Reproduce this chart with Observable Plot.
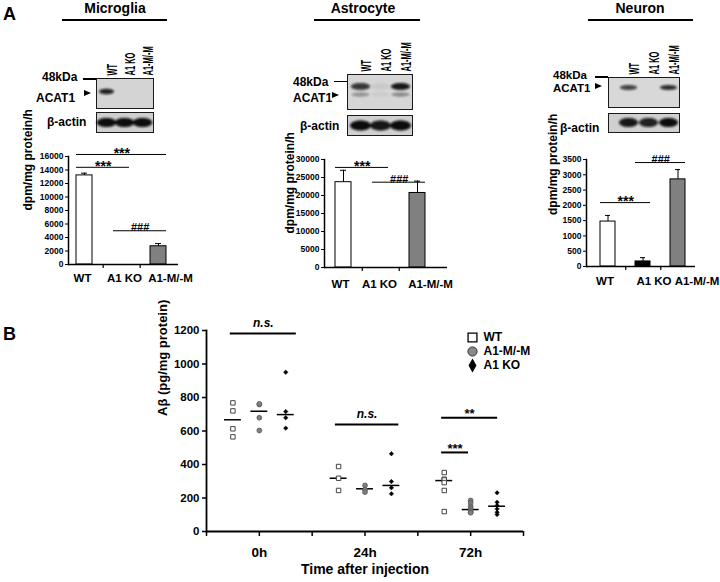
<!DOCTYPE html>
<html><head><meta charset="utf-8">
<script src="https://cdn.jsdelivr.net/npm/d3@7"></script>
<script src="https://cdn.jsdelivr.net/npm/@observablehq/plot@0.6"></script>
<style>
body{margin:0;background:#fff;}
#fig{position:relative;width:720px;height:582px;overflow:hidden;font-family:"Liberation Sans",Arial,sans-serif;font-weight:bold;color:#000;background:#fff;}
.lbl{position:absolute;white-space:nowrap;line-height:1;}
.hl{position:absolute;background:#000;}
.tri{position:absolute;width:0;height:0;border-top:3.5px solid transparent;border-bottom:3.5px solid transparent;border-left:7px solid #000;}
</style></head><body><div id="fig"></div>
<script>
// ---------- Panel A data ----------
const genotypes = ["WT", "A1 KO", "A1-M/-M"];
const barFills = ["white", "black", "#808080"];

const microValues = [13200, 0, 2700];
const microErrors = [330, 0, 400];
const microTicks = [0, 2000, 4000, 6000, 8000, 10000, 12000, 14000, 16000];
const microSig = [
  {from: "WT", to: "A1 KO", y: 14400, label: "***"},
  {from: "WT", to: "A1-M/-M", y: 16300, label: "***"},
  {from: "A1 KO", to: "A1-M/-M", y: 5000, label: "###"}
];

const astroValues = [23700, 0, 20700];
const astroErrors = [3300, 0, 3300];
const astroTicks = [0, 5000, 10000, 15000, 20000, 25000, 30000];
const astroSig = [
  {from: "WT", to: "A1 KO", y: 27800, label: "***"},
  {from: "A1 KO", to: "A1-M/-M", y: 23700, label: "###"}
];

const neuronValues = [1470, 165, 2850];
const neuronErrors = [200, 125, 320];
const neuronTicks = [0, 500, 1000, 1500, 2000, 2500, 3000, 3500];
const neuronSig = [
  {from: "WT", to: "A1 KO", y: 2090, label: "***"},
  {from: "A1 KO", to: "A1-M/-M", y: 3400, label: "###"}
];

// western blot band intensities per lane (WT, A1 KO, A1-M/-M)
const microACAT1 = [0.9, 0, 0];
const microActin = [1, 1, 1];
const astroUpper = [0.8, 0.06, 0.95];
const astroACAT1 = [0.3, 0.05, 0.35];
const astroActin = [1, 0.95, 1];
const neuronACAT1 = [0.75, 0, 0.85];
const neuronActin = [0.95, 0.9, 1];

// ---------- Panel B data ----------
const times = ["0h", "24h", "72h"];
const groupsB = ["WT", "A1-M/-M", "A1 KO"];
const wtB = [[768, 720, 613, 565], [388, 318, 245], [352, 312, 308, 292, 245, 119]];
const mmB = [[758, 762, 679, 603], [275, 249, 235], [185, 170, 150, 138, 125, 115, 112]];
const koB = [[951, 716, 679, 617], [464, 298, 261, 225], [231, 175, 155, 135, 115, 101]];
const meanWT = [667, 318, 304];
const meanMM = [718, 255, 131];
const meanKO = [698, 275, 151];
const bTicks = [0, 200, 400, 600, 800, 1000, 1200];
const sigB = [
  {x1: 0.45, x2: 1.7, y: 1182, label: "n.s."},
  {x1: 2.44, x2: 3.64, y: 639, label: "n.s."},
  {x1: 4.45, x2: 5.51, y: 679, label: "**"},
  {x1: 4.45, x2: 4.96, y: 472, label: "***"}
];

// ---------- helpers ----------
const fig = document.getElementById("fig");
const FONT = "'Liberation Sans', Arial, sans-serif";
const baseStyle = {fontFamily: FONT, fontWeight: "bold", background: "transparent", overflow: "visible", color: "black"};
function place(node, left, top) {
  node.style.position = "absolute";
  node.style.left = left + "px";
  node.style.top = top + "px";
  fig.appendChild(node);
  return node;
}
function label(text, x, y, size = 12, anchor = "start", italic = false) {
  const d = document.createElement("div");
  d.className = "lbl";
  d.textContent = text;
  d.style.fontSize = size + "px";
  if (italic) d.style.fontStyle = "italic";
  const tx = anchor === "middle" ? "-50%" : anchor === "end" ? "-100%" : "0";
  d.style.transform = `translate(${tx},-50%)`;
  d.style.left = x + "px";
  d.style.top = y + "px";
  fig.appendChild(d);
}
function hline(x1, x2, y, w = 2) {
  const d = document.createElement("div");
  d.className = "hl";
  d.style.left = x1 + "px"; d.style.top = (y - w / 2) + "px";
  d.style.width = (x2 - x1) + "px"; d.style.height = w + "px";
  fig.appendChild(d);
}
function arrow(x, y) {
  const d = document.createElement("div");
  d.className = "tri";
  d.style.left = x + "px"; d.style.top = (y - 3.5) + "px";
  fig.appendChild(d);
}
const ellipse = (rx, ry) => ({
  draw(ctx) {
    const k = 0.5523;
    ctx.moveTo(-rx, 0);
    ctx.bezierCurveTo(-rx, -ry * k, -rx * k, -ry, 0, -ry);
    ctx.bezierCurveTo(rx * k, -ry, rx, -ry * k, rx, 0);
    ctx.bezierCurveTo(rx, ry * k, rx * k, ry, 0, ry);
    ctx.bezierCurveTo(-rx * k, ry, -rx, ry * k, -rx, 0);
    ctx.closePath();
  }
});

// ---------- bar panels ----------
function barPanel(c) {
  const rows = genotypes.map((g, i) => ({g, v: c.values[i], e: c.errors[i], hi: c.values[i] + c.errors[i]}));
  const err = rows.filter(d => d.e > 0);
  const step = (c.xRange[1] - c.xRange[0]) / genotypes.length;
  const gi = g => genotypes.indexOf(g);
  const frameH = c.height - c.mT - c.mB;
  const marks = [
    Plot.axisY({ticks: c.ticks, tickSize: 3, tickPadding: 2, tickFormat: "d", fontSize: 8.5, label: null}),
    Plot.barY(rows, {x: "g", y: "v", fill: "g", stroke: "black", strokeWidth: 1}),
    Plot.ruleX(err, {x: "g", y1: "v", y2: "hi", strokeWidth: 1}),
    Plot.tickY(err, {x: "g", y: "hi", insetLeft: 5, insetRight: 5, strokeWidth: 1}),
    Plot.frame({anchor: "left", strokeWidth: 1.5}),
    Plot.ruleY([0], {strokeWidth: 1.5}),
    Plot.ruleX(genotypes.slice(0, 2), {x: d => d, dx: step / 2, insetTop: frameH, insetBottom: -4, strokeWidth: 1.2}),
    ...genotypes.map((g, i) => Plot.axisX({ticks: [g], tickSize: 0, tickPadding: c.labelPad, fontSize: 11.5, dx: c.labelDx[i], label: null})),
    Plot.ruleY(c.sig, {y: "y", x1: "from", x2: "to", strokeWidth: 1}),
    ...c.sig.map(s => Plot.text([s], {
      x: "from", y: "y", text: "label",
      dx: step * (gi(s.to) - gi(s.from)) / 2,
      dy: s.label === "###" ? -3 : -1,
      fontSize: s.label === "###" ? 11 : 14
    })),
    Plot.text(["dpm/mg protein/h"], {frameAnchor: "left", rotate: -90, dx: c.ylDx, dy: c.ylDy, fontSize: 12})
  ];
  const svg = Plot.plot({
    width: c.width, height: c.height,
    marginLeft: c.mL, marginRight: c.mR, marginTop: c.mT, marginBottom: c.mB,
    style: baseStyle,
    x: {domain: genotypes, range: c.xRange, paddingInner: 0.58, paddingOuter: 0.29},
    y: {domain: [0, c.yMax]},
    color: {domain: genotypes, range: barFills},
    marks
  });
  place(svg, c.left, c.top);
}

barPanel({left: 0, top: 140, width: 200, height: 152, mL: 68, mR: 22, mT: 16, mB: 28,
  xRange: [65, 177], yMax: 16000, ticks: microTicks, values: microValues, errors: microErrors,
  sig: microSig, ylDx: -40, ylDy: 0, labelDx: [-2, 3, 12], labelPad: 9});
barPanel({left: 240, top: 140, width: 215, height: 155, mL: 84, mR: 8, mT: 19, mB: 28,
  xRange: [83.25, 195.75], yMax: 30000, ticks: astroTicks, values: astroValues, errors: astroErrors,
  sig: astroSig, ylDx: -34, ylDy: 20, labelDx: [-3, -1, 13], labelPad: 12});
barPanel({left: 480, top: 140, width: 240, height: 154, mL: 106, mR: 25, mT: 19, mB: 28,
  xRange: [108.75, 215.25], yMax: 3500, ticks: neuronTicks, values: neuronValues, errors: neuronErrors,
  sig: neuronSig, ylDx: -33, ylDy: 2, labelDx: [-3, 11, 19], labelPad: 10});

// ---------- blots ----------
let blotId = 0;
function blot(c) {
  const id = "blur" + (blotId++);
  const marks = [Plot.frame({fill: c.bg, stroke: "#1a1a1a", strokeWidth: 1})];
  c.bands.forEach(b => {
    const data = b.values.map((a, i) => ({lane: genotypes[i], row: b.row, a})).filter(d => d.a > 0);
    marks.push(Plot.dot(data, {x: "lane", y: "row", symbol: ellipse(b.rx, b.ry), r: 3, fill: "#0a0a0a", fillOpacity: "a", stroke: "none"}));
  });
  if (c.lanes) marks.push(Plot.text(genotypes, {x: d => d, frameAnchor: "top", rotate: -90, textAnchor: "start", dy: -3, fontSize: 15}));
  const svg = Plot.plot({
    width: c.width, height: c.height,
    marginLeft: c.mL, marginRight: c.mR, marginTop: c.mT, marginBottom: c.mB,
    style: baseStyle,
    x: {type: "band", domain: genotypes, range: c.xRange, axis: null},
    y: {type: "point", domain: c.rows, range: c.yRange, axis: null},
    opacity: {type: "identity"},
    marks
  });
  const ns = "http://www.w3.org/2000/svg";
  const defs = document.createElementNS(ns, "defs");
  defs.innerHTML = `<filter id="${id}" x="-50%" y="-50%" width="200%" height="200%"><feGaussianBlur stdDeviation="${c.blur}"/></filter>`;
  svg.insertBefore(defs, svg.firstChild);
  d3.select(svg).selectAll('g[aria-label="dot"]').attr("filter", `url(#${id})`);
  if (c.lanes) {
    d3.select(svg).selectAll('g[aria-label="text"] text').attr("transform", function () {
      return (this.getAttribute("transform") || "") + " scale(0.5,1)";
    });
  }
  place(svg, c.left, c.top);
}

// Microglia
blot({left: 90, top: 40, width: 70, height: 72, mL: 6, mR: 7, mT: 38, mB: 4, xRange: [6, 63],
  rows: ["upper", "ACAT1"], yRange: [42, 54], bg: "#d4d4d4", blur: 0.9, lanes: true,
  bands: [{row: "ACAT1", values: microACAT1, rx: 7.5, ry: 2.8}]});
blot({left: 90, top: 108, width: 70, height: 28, mL: 6, mR: 7, mT: 4, mB: 4, xRange: [6, 63],
  rows: ["actin"], yRange: [14, 14], bg: "#cfcfcf", blur: 0.8, lanes: false,
  bands: [{row: "actin", values: microActin, rx: 9.8, ry: 4.6}]});
// Astrocyte
blot({left: 340, top: 36, width: 80, height: 77, mL: 7, mR: 8, mT: 38, mB: 4, xRange: [7, 72],
  rows: ["upper", "ACAT1"], yRange: [46, 62], bg: "#d6d6d6", blur: 1, lanes: true,
  bands: [{row: "upper", values: astroUpper, rx: 9.5, ry: 3.4}, {row: "ACAT1", values: astroACAT1, rx: 9, ry: 2.2}]});
blot({left: 340, top: 111, width: 80, height: 28, mL: 7, mR: 8, mT: 4, mB: 4, xRange: [7, 72],
  rows: ["actin"], yRange: [14, 14], bg: "#d0d0d0", blur: 0.9, lanes: false,
  bands: [{row: "actin", values: astroActin, rx: 10.5, ry: 5}]});
// Neuron
blot({left: 600, top: 39, width: 85, height: 72, mL: 8, mR: 6, mT: 38, mB: 4, xRange: [17, 79],
  rows: ["upper", "ACAT1"], yRange: [44, 49], bg: "#d8d8d8", blur: 0.9, lanes: true,
  bands: [{row: "ACAT1", values: neuronACAT1, rx: 8.5, ry: 2.5}]});
blot({left: 600, top: 109, width: 85, height: 27, mL: 8, mR: 6, mT: 4, mB: 4, xRange: [17, 79],
  rows: ["actin"], yRange: [13, 13], bg: "#d0d0d0", blur: 0.8, lanes: false,
  bands: [{row: "actin", values: neuronActin, rx: 9.5, ry: 4.6}]});

// ---------- Panel A annotations ----------
label("A", 3, 14, 18);
label("Microglia", 115, 8, 14, "middle"); hline(62, 167, 19.5);
label("Astrocyte", 363, 8, 14, "middle"); hline(314, 420, 19.5);
label("Neuron", 640, 8, 14, "middle"); hline(588, 693, 19.5);

label("48kDa", 42, 77, 12); hline(83, 96, 78.8, 1.5);
label("ACAT1", 36, 98, 12); arrow(84, 93);
label("β-actin", 47, 122, 12);

label("48kDa", 293, 82, 12); hline(334, 347, 81.5, 1.5);
label("ACAT1", 293, 98, 12); arrow(332, 95.5);
label("β-actin", 300, 126, 12);

label("48kDa", 553, 75.5, 11.5); hline(595, 608, 77.2, 1.5);
label("ACAT1", 553, 88.5, 11.5); arrow(595, 86);
label("β-actin", 560, 128, 12);

// ---------- Panel B ----------
label("B", 3, 334, 18);
const dodge = {"WT": -0.5, "A1-M/-M": 0, "A1 KO": 0.5};
const pos = d => 2 * times.indexOf(d.t) + 1 + dodge[d.g];
function longForm(arr, g) {
  const out = [];
  arr.forEach((vals, ti) => vals.forEach(v => out.push({t: times[ti], g, v})));
  return out;
}
const ptsWT = longForm(wtB, "WT");
const ptsMM = longForm(mmB, "A1-M/-M");
const ptsKO = longForm(koB, "A1 KO");
const means = [
  ...meanWT.map((v, i) => ({t: times[i], g: "WT", v})),
  ...meanMM.map((v, i) => ({t: times[i], g: "A1-M/-M", v})),
  ...meanKO.map((v, i) => ({t: times[i], g: "A1 KO", v}))
];
const plotB = Plot.plot({
  width: 380, height: 262, marginLeft: 56, marginRight: 7, marginTop: 10, marginBottom: 51,
  style: baseStyle,
  x: {domain: [0, 6]},
  y: {domain: [0, 1200]},
  marks: [
    Plot.axisY({ticks: bTicks, tickSize: 4, tickPadding: 3, tickFormat: "d", fontSize: 11.5, label: null, strokeWidth: 1.5}),
    Plot.frame({anchor: "left", strokeWidth: 1.8}),
    Plot.ruleY([0], {strokeWidth: 1.8}),
    Plot.axisX({ticks: [0, 1, 2, 3, 4, 5, 6], tickSize: 5, tickFormat: () => "", label: null, strokeWidth: 1.5}),
    Plot.axisX({ticks: [1, 3, 5], tickSize: 0, tickPadding: 16, tickFormat: i => times[(i - 1) / 2], fontSize: 13.5, label: null}),
    Plot.text(["Time after injection"], {frameAnchor: "bottom", dy: 42, fontSize: 14}),
    Plot.text(["Aβ (pg/mg protein)"], {frameAnchor: "left", rotate: -90, dx: -44, dy: -15, fontSize: 13}),
    Plot.ruleY(means, {y: "v", x1: d => pos(d) - 0.16, x2: d => pos(d) + 0.16, strokeWidth: 1.5}),
    Plot.dot(ptsWT, {x: pos, y: "v", symbol: "square", r: 2.5, fill: "white", stroke: "#444", strokeWidth: 1}),
    Plot.dot(ptsMM, {x: pos, y: "v", symbol: "circle", r: 2.4, fill: "#808080", stroke: "#555", strokeWidth: 0.8}),
    Plot.dot(ptsKO, {x: pos, y: "v", symbol: "diamond2", r: 2, fill: "black", stroke: "black", strokeWidth: 0.5}),
    Plot.ruleY(sigB, {y: "y", x1: "x1", x2: "x2", strokeWidth: 2}),
    Plot.text(sigB.filter(s => s.label === "n.s."), {x: s => (s.x1 + s.x2) / 2, y: "y", text: "label", dy: -10.5, fontSize: 12, fontStyle: "italic"}),
    Plot.text(sigB.filter(s => s.label !== "n.s."), {x: s => (s.x1 + s.x2) / 2, y: "y", text: "label", dy: -4, fontSize: 13})
  ]
});
place(plotB, 150, 320);

const legend = Plot.plot({
  width: 90, height: 48, marginLeft: 0, marginRight: 0, marginTop: 10, marginBottom: 9,
  style: baseStyle,
  y: {type: "point", domain: groupsB, padding: 0, axis: null},
  marks: [
    Plot.dot(["WT"], {y: d => d, frameAnchor: "left", dx: 10, symbol: "square", r: 5, fill: "white", stroke: "black", strokeWidth: 1.3}),
    Plot.dot(["A1-M/-M"], {y: d => d, frameAnchor: "left", dx: 10, symbol: "circle", r: 4.6, fill: "#888", stroke: "#333", strokeWidth: 1}),
    Plot.dot(["A1 KO"], {y: d => d, frameAnchor: "left", dx: 10, symbol: "diamond", r: 4.2, fill: "black"}),
    Plot.text(groupsB, {y: d => d, frameAnchor: "left", dx: 21, textAnchor: "start", fontSize: 12})
  ]
});
place(legend, 462, 326);
</script>
</body></html>
